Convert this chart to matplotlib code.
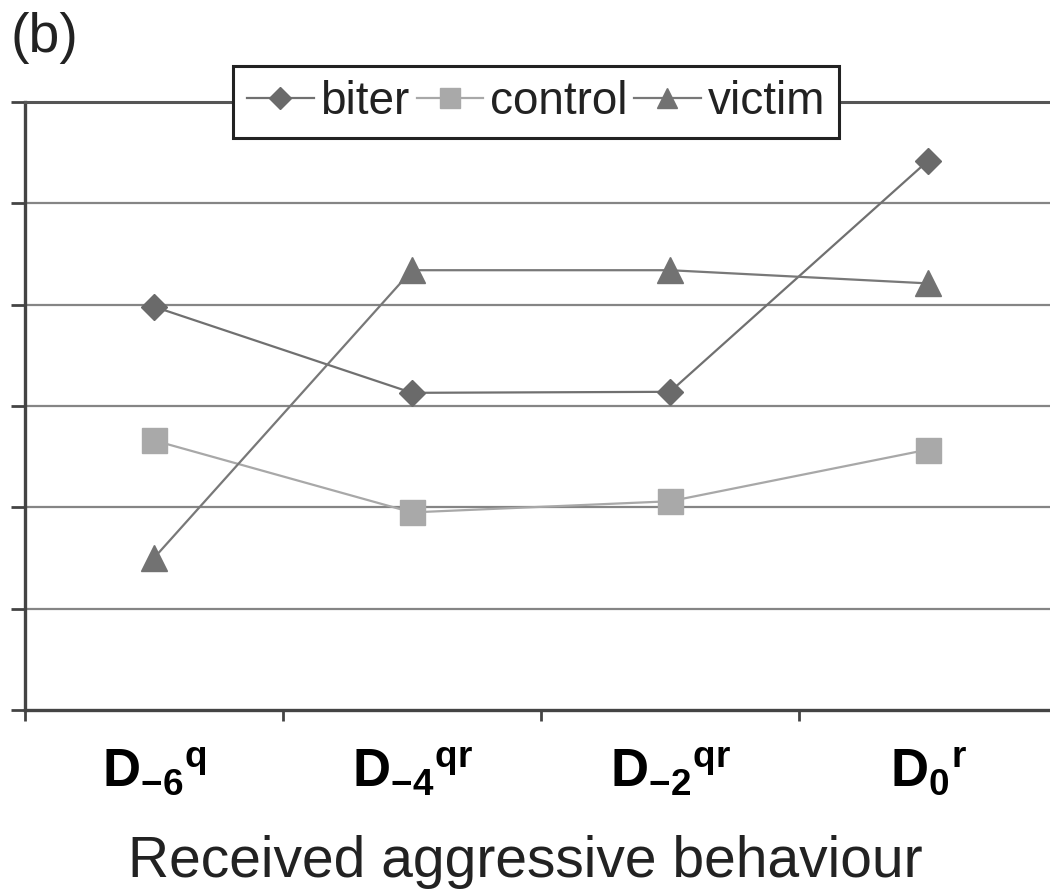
import matplotlib
matplotlib.use("Agg")
import matplotlib.pyplot as plt
from matplotlib.lines import Line2D

plt.rcParams['font.family'] = ['Liberation Sans', 'DejaVu Sans']
plt.rcParams['mathtext.fontset'] = 'custom'
plt.rcParams['mathtext.rm'] = 'Liberation Sans'
plt.rcParams['mathtext.bf'] = 'Liberation Sans:bold'
plt.rcParams['mathtext.it'] = 'Liberation Sans:italic'

categories = [r'$\mathbf{D}_{\mathbf{-6}}{}^{\mathbf{q}}$',
              r'$\mathbf{D}_{\mathbf{-4}}{}^{\mathbf{qr}}$',
              r'$\mathbf{D}_{\mathbf{-2}}{}^{\mathbf{qr}}$',
              r'$\mathbf{D}_{\mathbf{0}}{}^{\mathbf{r}}$']
biter = [3.98, 3.13, 3.14, 5.42]
control = [2.66, 1.95, 2.06, 2.57]
victim = [1.50, 4.34, 4.34, 4.21]
series_names = ['biter', 'control', 'victim']
xlabel = 'Received aggressive behaviour'
panel = '(b)'

W, H = 1050, 896
fig = plt.figure(figsize=(W / 100, H / 100), dpi=100)
left, right, top, bottom = 25, 1057, 102, 710
ax = fig.add_axes([left / W, 1 - bottom / H, (right - left) / W, (bottom - top) / H])

x = list(range(len(categories)))
ax.plot(x, biter, color='#707070', lw=1.6, marker='D', ms=13.5,
        mfc='#6a6a6a', mec='#6a6a6a', zorder=4, clip_on=False)
ax.plot(x, control, color='#a8a8a8', lw=1.6, marker='s', ms=18,
        mfc='#a9a9a9', mec='#a9a9a9', zorder=3, clip_on=False)
ax.plot(x, victim, color='#787878', lw=1.6, marker='^', ms=19,
        mfc='#727272', mec='#727272', zorder=4, clip_on=False)

ax.set_xlim(-0.5, 3.5)
ax.set_ylim(0, 6)

for yv in range(1, 6):
    ax.axhline(yv, color='#858585', lw=1.6, zorder=1)

ax.spines['right'].set_visible(False)
ax.spines['top'].set_color('#555555')
ax.spines['top'].set_linewidth(2.2)
ax.spines['left'].set_color('#444444')
ax.spines['left'].set_linewidth(2.4)
ax.spines['bottom'].set_color('#444444')
ax.spines['bottom'].set_linewidth(2.4)

ax.set_yticks(range(0, 7))
ax.set_yticklabels([])
ax.tick_params(axis='y', direction='out', length=10, width=2, color='#444444')

ax.set_xticks(x)
ax.set_xticklabels(categories, fontsize=38)
ax.set_xticks([-0.5, 0.5, 1.5, 2.5], minor=True)
ax.tick_params(axis='x', which='major', length=0, pad=26)
ax.tick_params(axis='x', which='minor', direction='out', length=8, width=2, color='#444444')

ax.set_xlabel(xlabel, fontsize=41, color='#222222')
ax.xaxis.set_label_coords((525 - left) / (right - left), -0.205)

fig.text(10 / W, 1 - 38 / H, panel, fontsize=40, color='#222222', va='center', ha='left')

handles = [
    Line2D([], [], color='#707070', lw=1.6, marker='D', ms=11, mfc='#6a6a6a', mec='#6a6a6a'),
    Line2D([], [], color='#a8a8a8', lw=1.6, marker='s', ms=15, mfc='#a9a9a9', mec='#a9a9a9'),
    Line2D([], [], color='#787878', lw=1.6, marker='^', ms=15, mfc='#727272', mec='#727272'),
]
leg = fig.legend(handles, series_names, loc='center', bbox_to_anchor=(536 / W, 1 - 102 / H),
                 ncol=3, fontsize=33, frameon=True, fancybox=False, handlelength=1.45,
                 handletextpad=0.15, columnspacing=0.15, borderpad=0.3, borderaxespad=0)
leg.get_frame().set_edgecolor('#222222')
leg.get_frame().set_linewidth(2.2)
leg.get_frame().set_facecolor('white')
leg.get_frame().set_alpha(1)
for t in leg.get_texts():
    t.set_color('#222222')

fig.savefig('out.png', dpi=100)
